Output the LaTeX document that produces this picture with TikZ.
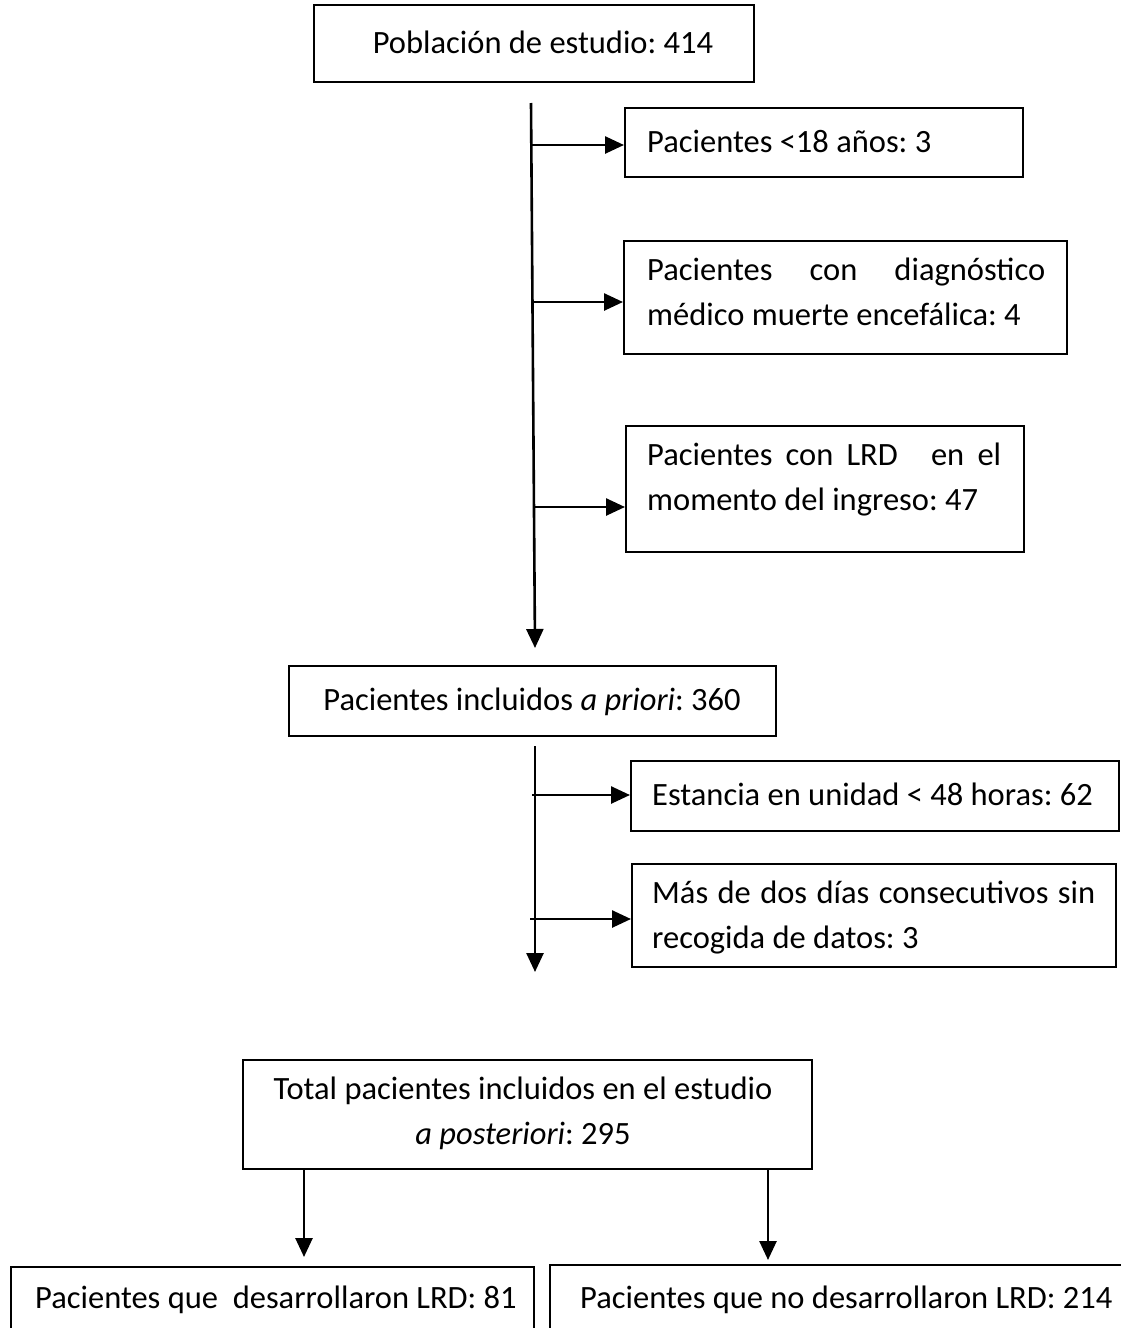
\documentclass[tikz,border=0pt]{standalone}
\usepackage{fontspec}
\setmainfont{Carlito}
\usetikzlibrary{arrows.meta}
\frenchspacing
\begin{document}
\begin{tikzpicture}[x=1pt,y=-1pt,
  box/.style={draw, line width=1.6pt, rectangle, inner sep=0pt, anchor=north west},
  lbl/.style={inner sep=0pt, font=\fontsize{32.5}{45}\selectfont},
  arr/.style={line width=2.6pt, -{Triangle[length=19pt,width=17pt]}}]
\useasboundingbox (0,0) rectangle (1120,1328);

% boxes
\node[box, minimum width=440pt, minimum height=77pt] (b1) at (313,4) {};
\node[box, minimum width=398pt, minimum height=69pt] (r1) at (624,107) {};
\node[box, minimum width=443pt, minimum height=113pt] (r2) at (623,240) {};
\node[box, minimum width=398pt, minimum height=126pt] (r3) at (625,425) {};
\node[box, minimum width=487pt, minimum height=70pt] (b2) at (288,665) {};
\node[box, minimum width=488pt, minimum height=70pt] (r4) at (630,760) {};
\node[box, minimum width=484pt, minimum height=103pt] (r5) at (631,863) {};
\node[box, minimum width=569pt, minimum height=109pt] (b3) at (242,1059) {};
\node[box, minimum width=523pt, minimum height=90pt] (l1) at (10,1266) {};
\node[box, minimum width=580pt, minimum height=90pt] (l2) at (549,1264) {};

% texts
\node[lbl, anchor=base] (t1) at (543,53) {Población de estudio: 414};
\node[lbl, anchor=base west] (t2) at (647,152) {Pacientes <18 años: 3};
\node[lbl, anchor=base west] (t3a) at (647,280) {\makebox[398pt][s]{Pacientes con diagnóstico}};
\node[lbl, anchor=base west] (t3b) at (647,325) {médico muerte encefálica: 4};
\node[lbl, anchor=base west] (t4a) at (647,465) {\makebox[354pt][s]{Pacientes con LRD\hspace{20pt} en el}};
\node[lbl, anchor=base west] (t4b) at (647,510) {momento del ingreso: 47};
\node[lbl, anchor=base] (t5) at (532,710.5) {Pacientes incluidos \textit{a priori}: 360};
\node[lbl, anchor=base west] (t6) at (652,805.5) {Estancia en unidad < 48 horas: 62};
\node[lbl, anchor=base west] (t7a) at (652,903) {\makebox[443pt][s]{Más de dos días consecutivos sin}};
\node[lbl, anchor=base west] (t7b) at (652,948) {recogida de datos: 3};
\node[lbl, anchor=base] (t8a) at (523,1099) {Total pacientes incluidos en el estudio};
\node[lbl, anchor=base] (t8b) at (523,1144) {\textit{a posteriori}: 295};
\node[lbl, anchor=base west] (t9) at (35,1308) {Pacientes que\ \ desarrollaron LRD: 81};
\node[lbl, anchor=base west] (t10) at (580,1308) {Pacientes que no desarrollaron LRD: 214};

% first trunk
\coordinate (a1) at (531,103);
\coordinate (a1e) at (535,648);
\draw[arr] (a1) -- (a1e);
\coordinate (s1) at (531,145);
\coordinate (s2) at (532.5,302);
\coordinate (s3) at (534,507);
\draw[arr] (s1) -- (s1 -| r1.west);
\draw[arr] (s2) -- (s2 -| r2.west);
\draw[arr] (s3) -- (s3 -| r3.west);

% second trunk
\coordinate (a2) at (535,746);
\coordinate (a2e) at (535,972);
\draw[arr] (a2) -- (a2e);
\coordinate (s4) at (532,795);
\coordinate (s5) at (530,919);
\draw[arr] (s4) -- (s4 -| r4.west);
\draw[arr] (s5) -- (s5 -| r5.west);

% split
\coordinate (d1) at (304,1168);
\coordinate (d2) at (768,1168);
\draw[arr, shorten >=9pt] (d1) -- (d1 |- l1.north);
\draw[arr, shorten >=4pt] (d2) -- (d2 |- l2.north);
\end{tikzpicture}
\end{document}
